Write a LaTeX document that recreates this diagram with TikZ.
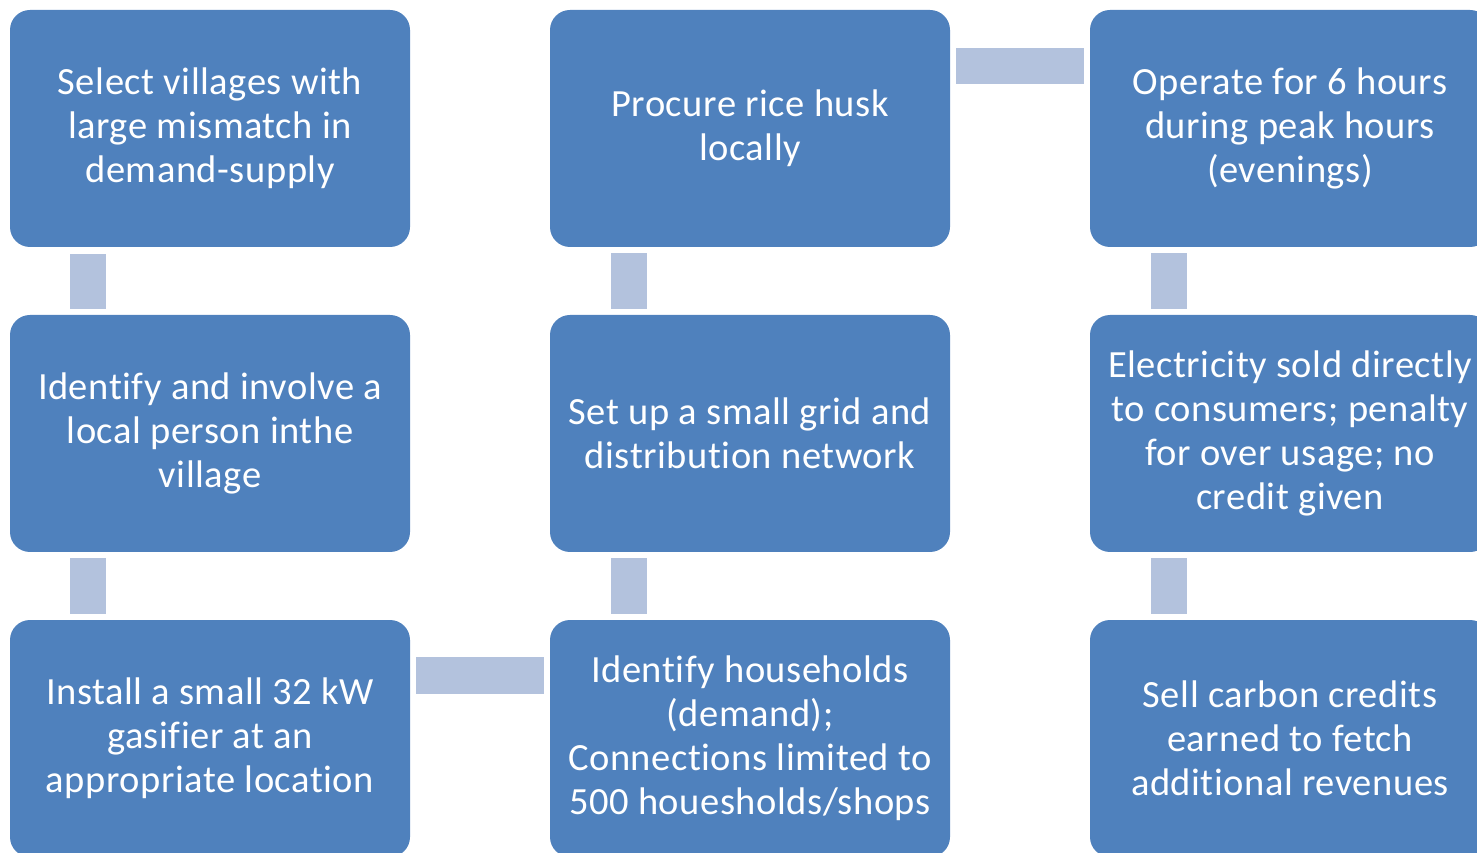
\documentclass[tikz,border=0pt]{standalone}
\usepackage{fontspec}
\setmainfont[Ligatures=NoCommon,LetterSpace=1.4]{Carlito}
\usetikzlibrary{calc}
\definecolor{boxblue}{HTML}{4F81BD}
\definecolor{linkblue}{HTML}{B3C2DD}
\tikzset{
  stepbox/.style={draw=none, fill=boxblue, rounded corners=20pt,
    minimum width=400pt, minimum height=237pt, inner sep=0pt,
    text=white, align=center,
    font=\fontsize{38.5}{44}\selectfont},
  linkbar/.style={fill=linkblue, draw=none}
}
\begin{document}
\begin{tikzpicture}[x=1pt,y=1pt]
\useasboundingbox (0,0) rectangle (1477,852);
\clip (0,0) rectangle (1477,852);
% boxes, column by column
\node[stepbox] (s1) at (210,723.5) {Select villages with\\large mismatch in\\demand-supply};
\node[stepbox] (s2) at (210,418.5) {Identify and involve a\\local person inthe\\village};
\node[stepbox] (s3) at (210,113.5) {Install a small 32 kW\\gasifier at an\\appropriate location};
\node[stepbox] (s4) at (750,113.5) {Identify households\\(demand);\\Connections limited to\\500 houesholds/shops};
\node[stepbox] (s5) at (750,418.5) {Set up a small grid and\\distribution network};
\node[stepbox] (s6) at (750,723.5) {Procure rice husk\\locally};
\node[stepbox] (s7) at (1290,723.5) {Operate for 6 hours\\during peak hours\\(evenings)};
\node[stepbox] (s8) at (1290,418.5) {Electricity sold directly\\to consumers; penalty\\for over usage; no\\credit given};
\node[stepbox] (s9) at (1290,113.5) {Sell carbon credits\\earned to fetch\\additional revenues};
% vertical links
\fill[linkbar] ($(s1.south west)+(60,-7)$) rectangle ($(s2.north west)+(96,6)$);
\fill[linkbar] ($(s2.south west)+(60,-6)$) rectangle ($(s3.north west)+(96,6)$);
\fill[linkbar] ($(s4.north west)+(61,6)$) rectangle ($(s5.south west)+(97,-6)$);
\fill[linkbar] ($(s5.north west)+(61,6)$) rectangle ($(s6.south west)+(97,-6)$);
\fill[linkbar] ($(s7.south west)+(61,-6)$) rectangle ($(s8.north west)+(97,6)$);
\fill[linkbar] ($(s8.south west)+(61,-6)$) rectangle ($(s9.north west)+(97,6)$);
% horizontal links
\fill[linkbar] ($(s3.north east)+(6,-37)$) rectangle ($(s4.north west)+(-6,-74)$);
\fill[linkbar] ($(s6.north east)+(6,-38)$) rectangle ($(s7.north west)+(-6,-74)$);
\end{tikzpicture}
\end{document}
